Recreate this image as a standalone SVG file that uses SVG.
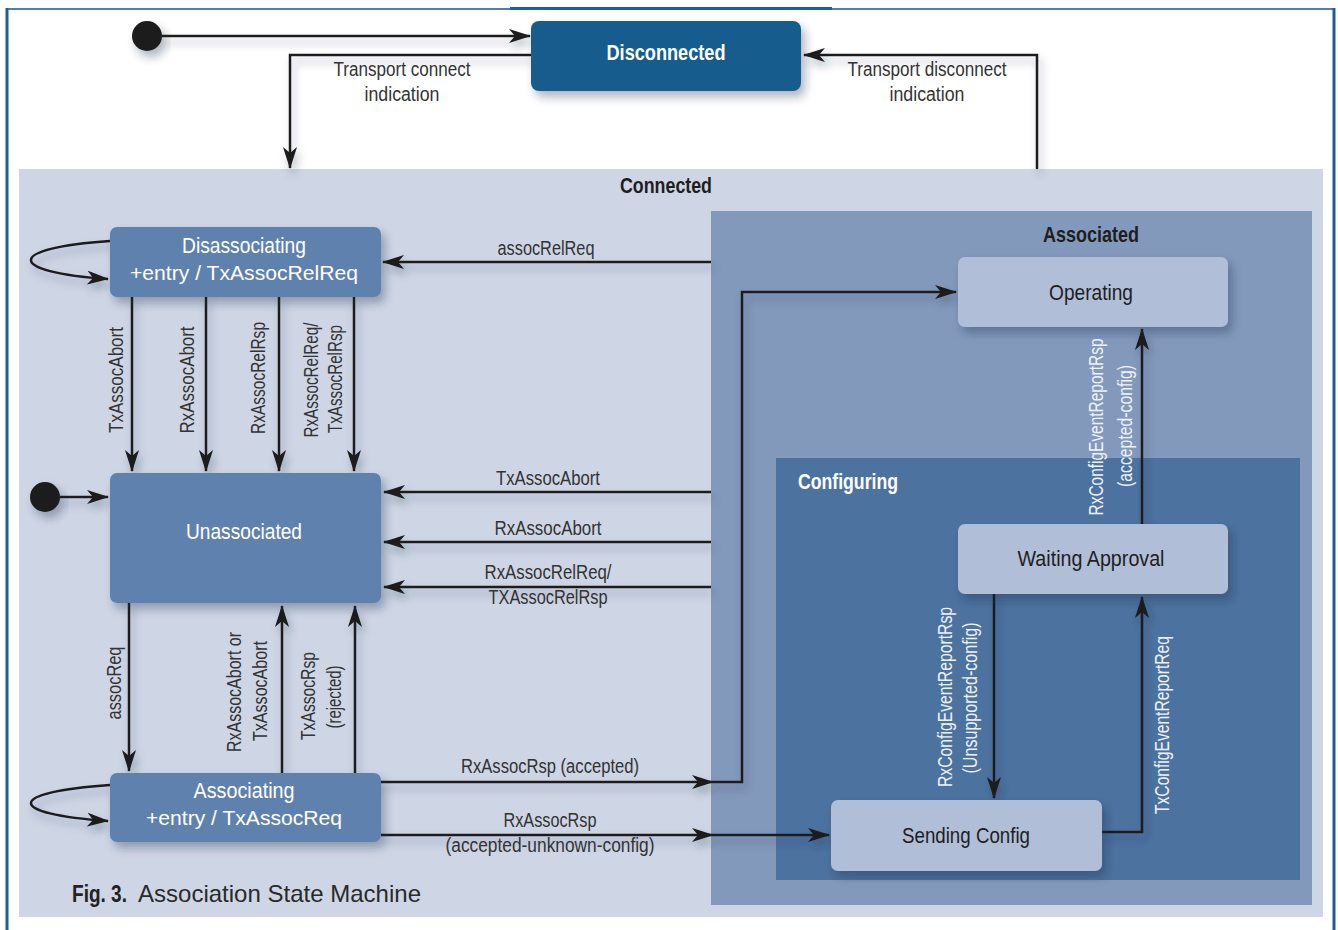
<svg xmlns="http://www.w3.org/2000/svg" width="1338" height="930" viewBox="0 0 1338 930">
  <defs>
    <marker id="ah" viewBox="0 0 22 14" refX="21" refY="7" markerWidth="22" markerHeight="14" markerUnits="userSpaceOnUse" orient="auto">
      <path d="M0,0 L22,7 L0,14 L6,7 z" fill="#1b1b1b"/>
    </marker>
    <filter id="nodeShadow" x="-20%" y="-30%" width="150%" height="180%">
      <feDropShadow dx="4" dy="6" stdDeviation="5" flood-color="#1a2a40" flood-opacity="0.35"/>
    </filter>
    <filter id="lineShadow" x="-10%" y="-10%" width="130%" height="130%">
      <feDropShadow dx="3" dy="6" stdDeviation="4" flood-color="#1a2a40" flood-opacity="0.3"/>
    </filter>
    <style>
      text { font-family: "Liberation Sans Narrow", "Liberation Sans", Arial, sans-serif; }
      .lbl { font-size: 20px; fill: #333333; text-anchor: middle; }
      .lbl-w { font-size: 20px; fill: #eef2f8; text-anchor: middle; }
      .title { font-size: 22px; font-weight: bold; fill: #1e1e1e; text-anchor: middle; }
      .node-dark { fill: #5f81ad; }
      .node-light { fill: #b1bed8; }
      .nt-w { font-size: 22px; fill: #ffffff; text-anchor: middle; }
      .nt-e { font-family: "Liberation Sans", Arial, sans-serif; font-size: 21px; fill: #ffffff; text-anchor: middle; }
      .nt-d { font-size: 22px; fill: #1e1e1e; text-anchor: middle; }
      .conn path { fill: none; stroke: #1b1b1b; stroke-width: 2.5; }
      .arr { marker-end: url(#ah); }
    </style>
  </defs>

  <!-- page background and frame -->
  <rect x="0" y="0" width="1338" height="930" fill="#ffffff"/>
  <line x1="7" y1="9" x2="1335" y2="9" stroke="#4f7faf" stroke-width="2"/>
  <line x1="510" y1="8.5" x2="832" y2="8.5" stroke="#1e5f95" stroke-width="3"/>
  <line x1="7" y1="8" x2="7" y2="930" stroke="#1e5f95" stroke-width="3"/>
  <line x1="1334" y1="8" x2="1334" y2="930" stroke="#1e5f95" stroke-width="3"/>

  <!-- composite state regions -->
  <g id="connected">
    <rect x="19" y="169" width="1304" height="748" fill="#ced6e5"/>
    <text class="title" x="666" y="193" textLength="92" lengthAdjust="spacingAndGlyphs">Connected</text>
  </g>
  <g id="associated">
    <rect x="711" y="211" width="601" height="694" fill="#8399bc"/>
    <text class="title" x="1091" y="242" textLength="96" lengthAdjust="spacingAndGlyphs">Associated</text>
  </g>
  <g id="configuring">
    <rect x="776" y="458" width="524" height="422" fill="#4c729f"/>
    <text class="title" x="848" y="489" style="fill:#ffffff" textLength="100" lengthAdjust="spacingAndGlyphs">Configuring</text>
  </g>

  <!-- initial pseudo-states -->
  <g id="init-top">
    <circle cx="147" cy="36" r="15" fill="#1b1b1b" filter="url(#nodeShadow)"/>
  </g>
  <g id="init-left">
    <circle cx="45" cy="497" r="15" fill="#1b1b1b" filter="url(#nodeShadow)"/>
  </g>

  <!-- connectors -->
  <g id="connectors" class="conn" filter="url(#lineShadow)">
    <path class="arr" d="M162,36 H530"/>
    <path class="arr" d="M531,55 H290 V168"/>
    <path class="arr" d="M1037,169 V55 H804"/>
    <path class="arr" d="M711,262 H383"/>
    <path class="arr" d="M110,241 C5,248 5,272 108,279"/>
    <path class="arr" d="M132,297 V471"/>
    <path class="arr" d="M206,297 V471"/>
    <path class="arr" d="M279,297 V471"/>
    <path class="arr" d="M354,297 V471"/>
    <path class="arr" d="M60,497 H108"/>
    <path class="arr" d="M711,492 H384"/>
    <path class="arr" d="M711,542 H384"/>
    <path class="arr" d="M711,587 H384"/>
    <path class="arr" d="M129,603 V771"/>
    <path class="arr" d="M282,773 V606"/>
    <path class="arr" d="M355,773 V606"/>
    <path class="arr" d="M110,785 C5,792 5,814 108,821"/>
    <path class="arr" d="M381,782 H713"/>
    <path class="arr" d="M713,782 H742 V292 H956"/>
    <path class="arr" d="M381,835 H713"/>
    <path class="arr" d="M713,835 H829"/>
    <path class="arr" d="M994,594 V798"/>
    <path class="arr" d="M1102,832 H1142 V597"/>
    <path class="arr" d="M1142,524 V329"/>
  </g>

  <!-- simple states -->
  <g id="disconnected">
    <rect x="531" y="21" width="270" height="70" rx="8" fill="#165b8d" filter="url(#nodeShadow)"/>
    <text x="666" y="60" text-anchor="middle" style="font-size:22px;font-weight:bold;fill:#ffffff" textLength="119" lengthAdjust="spacingAndGlyphs">Disconnected</text>
  </g>
  <g id="disassociating">
    <rect class="node-dark" x="110" y="227" width="271" height="70" rx="7" filter="url(#nodeShadow)"/>
    <text class="nt-w" x="244" y="253" textLength="124" lengthAdjust="spacingAndGlyphs">Disassociating</text>
    <text class="nt-e" x="244" y="280" textLength="228" lengthAdjust="spacingAndGlyphs">+entry / TxAssocRelReq</text>
  </g>
  <g id="unassociated">
    <rect class="node-dark" x="110" y="473" width="271" height="130" rx="7" filter="url(#nodeShadow)"/>
    <text class="nt-w" x="244" y="539" textLength="116" lengthAdjust="spacingAndGlyphs">Unassociated</text>
  </g>
  <g id="associating">
    <rect class="node-dark" x="110" y="773" width="271" height="69" rx="7" filter="url(#nodeShadow)"/>
    <text class="nt-w" x="244" y="798" textLength="101" lengthAdjust="spacingAndGlyphs">Associating</text>
    <text class="nt-e" x="244" y="825" textLength="196" lengthAdjust="spacingAndGlyphs">+entry / TxAssocReq</text>
  </g>
  <g id="operating">
    <rect class="node-light" x="958" y="257" width="270" height="70" rx="7" filter="url(#nodeShadow)"/>
    <text class="nt-d" x="1091" y="300" textLength="84" lengthAdjust="spacingAndGlyphs">Operating</text>
  </g>
  <g id="waiting-approval">
    <rect class="node-light" x="958" y="524" width="270" height="70" rx="7" filter="url(#nodeShadow)"/>
    <text class="nt-d" x="1091" y="566" textLength="147" lengthAdjust="spacingAndGlyphs">Waiting Approval</text>
  </g>
  <g id="sending-config">
    <rect class="node-light" x="831" y="800" width="271" height="71" rx="7" filter="url(#nodeShadow)"/>
    <text class="nt-d" x="966" y="843" textLength="128" lengthAdjust="spacingAndGlyphs">Sending Config</text>
  </g>

  <!-- transition labels -->
  <g id="labels">
    <text class="lbl" x="402" y="76" textLength="137" lengthAdjust="spacingAndGlyphs">Transport connect</text>
    <text class="lbl" x="402" y="101" textLength="75" lengthAdjust="spacingAndGlyphs">indication</text>
    <text class="lbl" x="927" y="76" textLength="159" lengthAdjust="spacingAndGlyphs">Transport disconnect</text>
    <text class="lbl" x="927" y="101" textLength="75" lengthAdjust="spacingAndGlyphs">indication</text>

    <text class="lbl" x="546" y="255" textLength="97" lengthAdjust="spacingAndGlyphs">assocRelReq</text>
    <text class="lbl" x="548" y="485" textLength="104" lengthAdjust="spacingAndGlyphs">TxAssocAbort</text>
    <text class="lbl" x="548" y="535" textLength="107" lengthAdjust="spacingAndGlyphs">RxAssocAbort</text>
    <text class="lbl" x="548" y="579" textLength="127" lengthAdjust="spacingAndGlyphs">RxAssocRelReq/</text>
    <text class="lbl" x="548" y="604" textLength="119" lengthAdjust="spacingAndGlyphs">TXAssocRelRsp</text>
    <text class="lbl" x="550" y="773" textLength="178" lengthAdjust="spacingAndGlyphs">RxAssocRsp (accepted)</text>
    <text class="lbl" x="550" y="827" textLength="93" lengthAdjust="spacingAndGlyphs">RxAssocRsp</text>
    <text class="lbl" x="550" y="852" textLength="209" lengthAdjust="spacingAndGlyphs">(accepted-unknown-config)</text>

    <text class="lbl" transform="translate(123,380) rotate(-90)" textLength="106" lengthAdjust="spacingAndGlyphs">TxAssocAbort</text>
    <text class="lbl" transform="translate(194,380) rotate(-90)" textLength="107" lengthAdjust="spacingAndGlyphs">RxAssocAbort</text>
    <text class="lbl" transform="translate(265,378) rotate(-90)" textLength="112" lengthAdjust="spacingAndGlyphs">RxAssocRelRsp</text>
    <text class="lbl" transform="translate(318,380) rotate(-90)" textLength="115" lengthAdjust="spacingAndGlyphs">RxAssocRelReq/</text>
    <text class="lbl" transform="translate(342,379) rotate(-90)" textLength="108" lengthAdjust="spacingAndGlyphs">TxAssocRelRsp</text>

    <text class="lbl" transform="translate(121,683) rotate(-90)" textLength="73" lengthAdjust="spacingAndGlyphs">assocReq</text>
    <text class="lbl" transform="translate(241,692) rotate(-90)" textLength="120" lengthAdjust="spacingAndGlyphs">RxAssocAbort or</text>
    <text class="lbl" transform="translate(267,691) rotate(-90)" textLength="100" lengthAdjust="spacingAndGlyphs">TxAssocAbort</text>
    <text class="lbl" transform="translate(315,696) rotate(-90)" textLength="88" lengthAdjust="spacingAndGlyphs">TxAssocRsp</text>
    <text class="lbl" transform="translate(341,697) rotate(-90)" textLength="63" lengthAdjust="spacingAndGlyphs">(rejected)</text>

    <text class="lbl-w" transform="translate(1103,427) rotate(-90)" textLength="177" lengthAdjust="spacingAndGlyphs">RxConfigEventReportRsp</text>
    <text class="lbl-w" transform="translate(1132,426) rotate(-90)" textLength="122" lengthAdjust="spacingAndGlyphs">(accepted-config)</text>
    <text class="lbl-w" transform="translate(952,697) rotate(-90)" textLength="180" lengthAdjust="spacingAndGlyphs">RxConfigEventReportRsp</text>
    <text class="lbl-w" transform="translate(977,698) rotate(-90)" textLength="151" lengthAdjust="spacingAndGlyphs">(Unsupported-config)</text>
    <text class="lbl-w" transform="translate(1169,725) rotate(-90)" textLength="178" lengthAdjust="spacingAndGlyphs">TxConfigEventReportReq</text>
  </g>

  <!-- caption -->
  <g id="caption">
    <text x="72" y="902" style="font-size:24px;font-weight:bold;fill:#222222" textLength="55" lengthAdjust="spacingAndGlyphs">Fig. 3.</text>
    <text x="138" y="902" style="font-family:'Liberation Sans',Arial,sans-serif;font-size:24px;fill:#2a2a2a" textLength="283" lengthAdjust="spacingAndGlyphs">Association State Machine</text>
  </g>
</svg>
